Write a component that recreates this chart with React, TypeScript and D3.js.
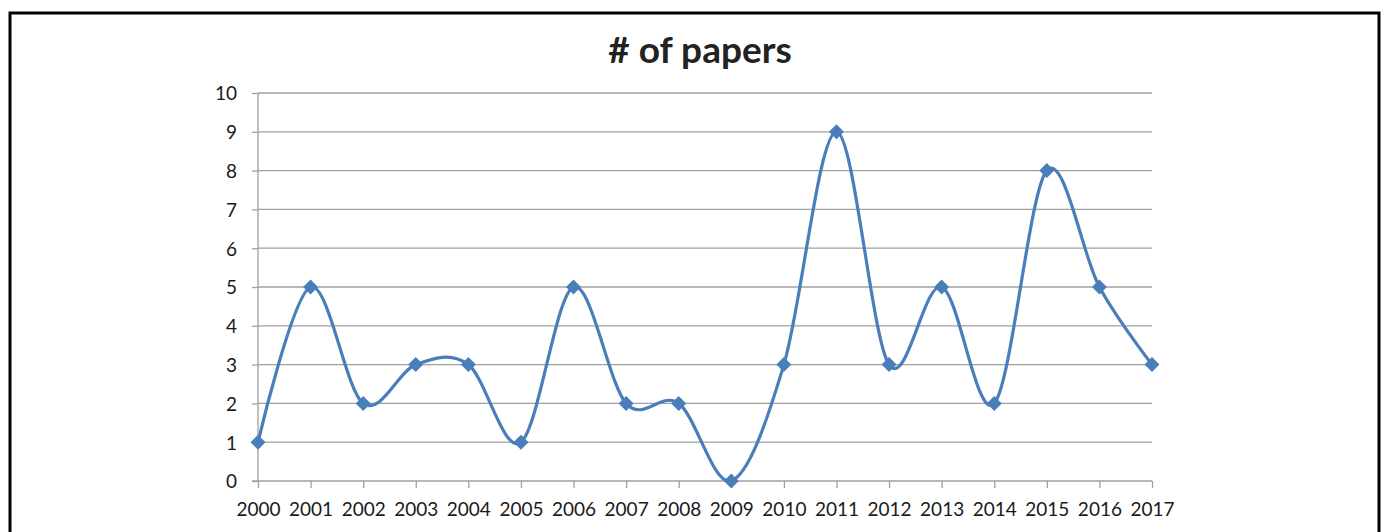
import React, { useEffect, useRef } from 'react';
import * as d3 from 'd3';

const years = ['2000', '2001', '2002', '2003', '2004', '2005', '2006', '2007', '2008', '2009',
  '2010', '2011', '2012', '2013', '2014', '2015', '2016', '2017'];
const papers = [1, 5, 2, 3, 3, 1, 5, 2, 2, 0, 3, 9, 3, 5, 2, 8, 5, 3];
const yTicks = [0, 1, 2, 3, 4, 5, 6, 7, 8, 9, 10];
const title = '# of papers';

const W = 1381;
const H = 532;
const FONT = 'Lato, "Open Sans", sans-serif';
const BLUE = '#4a7ebb';
const GRID = '#a0a0a0';

const App: React.FC = () => {
  const svgRef = useRef<SVGSVGElement>(null);

  useEffect(() => {
    if (!svgRef.current) return;
    const svg = d3.select(svgRef.current);
    svg.selectAll('*').remove();

    // outer frame (bottom edge runs off the picture)
    svg.append('rect')
      .attr('x', 10).attr('y', 13)
      .attr('width', 1369).attr('height', 600)
      .attr('fill', '#fff').attr('stroke', '#000').attr('stroke-width', 3);

    const x = d3.scalePoint<string>().domain(years).range([258, 1152]);
    const y = d3.scaleLinear().domain([0, 10]).range([481, 93]);

    svg.append('text')
      .attr('x', 700).attr('y', 63)
      .attr('text-anchor', 'middle')
      .style('font-family', FONT)
      .style('font-weight', 'bold')
      .style('font-size', '37px')
      .style('fill', '#222')
      .text(title);

    // gridlines
    svg.append('g')
      .selectAll('line')
      .data(yTicks.filter(t => t > 0))
      .join('line')
        .attr('x1', 258).attr('x2', 1152)
        .attr('y1', d => y(d)).attr('y2', d => y(d))
        .attr('stroke', GRID).attr('stroke-width', 1.3);

    const yAxis = svg.append('g')
      .attr('transform', 'translate(258,0)')
      .call(d3.axisLeft(y).tickValues(yTicks).tickSize(6).tickPadding(15));
    const xAxis = svg.append('g')
      .attr('transform', 'translate(0,481)')
      .call(d3.axisBottom(x).tickSize(7).tickPadding(10));

    [yAxis, xAxis].forEach(ax => {
      ax.selectAll('.domain,line').attr('stroke', GRID).attr('stroke-width', 1.3);
      ax.selectAll('text')
        .style('font-family', FONT)
        .style('font-size', '19px')
        .style('fill', '#1a1a1a');
      ax.select('.domain').attr('d', null);
    });
    // axis lines without end caps
    svg.append('line').attr('x1', 258).attr('x2', 258).attr('y1', 93).attr('y2', 481)
      .attr('stroke', GRID).attr('stroke-width', 1.3);
    svg.append('line').attr('x1', 252).attr('x2', 1152).attr('y1', 481).attr('y2', 481)
      .attr('stroke', GRID).attr('stroke-width', 1.3);
    yAxis.selectAll('text').attr('dy', '0.36em');
    xAxis.selectAll('text').attr('dy', '0.95em');

    const line = d3.line<number>()
      .x((_, i) => x(years[i]) as number)
      .y(d => y(d))
      .curve(d3.curveCardinal.tension(0));

    svg.append('path')
      .datum(papers)
      .attr('d', line)
      .attr('fill', 'none')
      .attr('stroke', BLUE)
      .attr('stroke-width', 3.2)
      .attr('stroke-linejoin', 'round');

    const r = 7.5;
    svg.append('g')
      .selectAll('path')
      .data(papers)
      .join('path')
        .attr('transform', (d, i) => `translate(${x(years[i])},${y(d)})`)
        .attr('d', `M0,${-r}L${r},0L0,${r}L${-r},0Z`)
        .attr('fill', BLUE);
  }, []);

  return (
    <svg ref={svgRef} width={W} height={H}
      style={{ position: 'absolute', left: 0, top: 0, background: '#fff' }} />
  );
};

export default App;
